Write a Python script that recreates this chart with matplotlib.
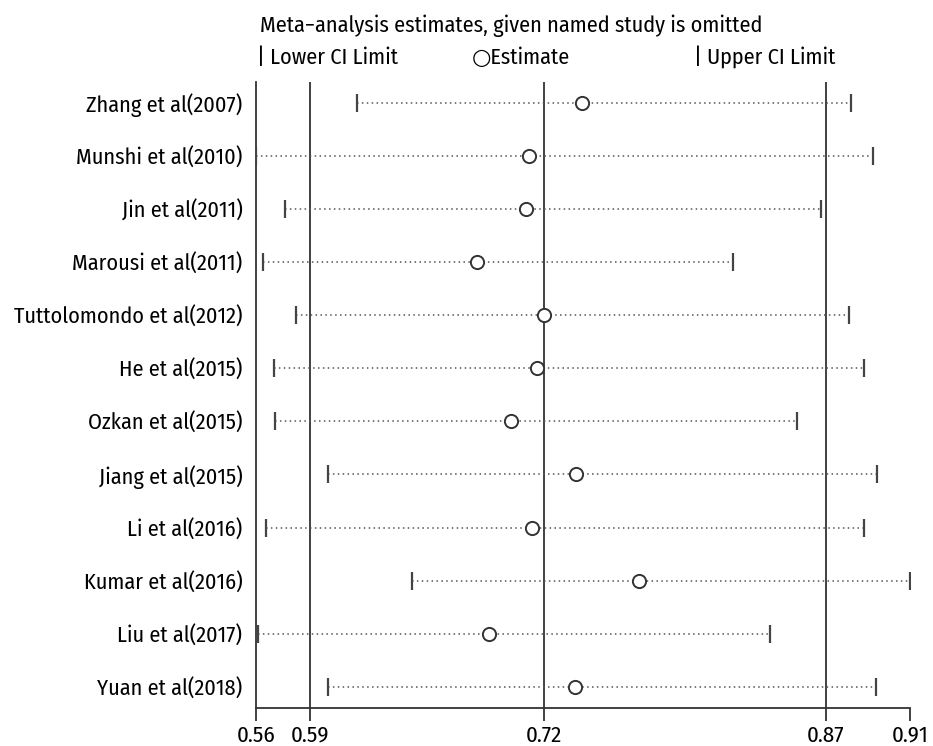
import matplotlib.pyplot as plt

# condensed humanist sans first, plain fallbacks after it
plt.rcParams['font.family'] = ['Fira Sans Condensed', 'Open Sans', 'DejaVu Sans']

studies = ['Zhang et al(2007)', 'Munshi et al(2010)', 'Jin et al(2011)',
           'Marousi et al(2011)', 'Tuttolomondo et al(2012)', 'He et al(2015)',
           'Ozkan et al(2015)', 'Jiang et al(2015)', 'Li et al(2016)',
           'Kumar et al(2016)', 'Liu et al(2017)', 'Yuan et al(2018)']
lower = [0.6177, 0.5640, 0.5794, 0.5676, 0.5851, 0.5736,
         0.5739, 0.6023, 0.5690, 0.6468, 0.5651, 0.6020]
estimate = [0.7374, 0.7092, 0.7075, 0.6812, 0.7170, 0.7131,
            0.6993, 0.7339, 0.7106, 0.7677, 0.6879, 0.7335]
upper = [0.8803, 0.8919, 0.8644, 0.8177, 0.8791, 0.8872,
         0.8518, 0.8943, 0.8874, 0.9117, 0.8374, 0.8936]

# overall estimate with all studies
overall_lower = 0.5927
overall_est = 0.7169
overall_upper = 0.8670

fig = plt.figure(figsize=(9.33, 7.46), dpi=100)
ax = fig.add_axes([0.2747, 0.0509, 0.7006, 0.8396])

n = len(studies)
ypos = list(range(n, 0, -1))
xmin, xmax = min(lower), max(upper)

for v in [overall_lower, overall_est, overall_upper]:
    ax.axvline(v, color='#333333', lw=1.3, zorder=1)

ax.hlines(ypos, lower, upper, colors='#555555', linestyles=(0, (1, 2.2)), lw=1.1, zorder=2)
ax.plot(lower, ypos, ls='none', marker='|', ms=13, mew=1.6, color='#444444', zorder=3)
ax.plot(upper, ypos, ls='none', marker='|', ms=13, mew=1.6, color='#444444', zorder=3)
ax.plot(estimate, ypos, ls='none', marker='o', ms=9.5, mfc='white', mec='#333333',
        mew=1.4, zorder=4)

ax.set_xlim(xmin, xmax)
ax.set_ylim(0.6, n + 0.4)
ticks = [xmin, overall_lower, overall_est, overall_upper, xmax]
ax.set_xticks(ticks)
ax.set_xticklabels([f'{t:.2f}' for t in ticks])
ax.set_yticks(ypos)
ax.set_yticklabels(studies)

for s in ['top', 'right']:
    ax.spines[s].set_visible(False)
for s in ['left', 'bottom']:
    ax.spines[s].set_color('#333333')
    ax.spines[s].set_linewidth(1.3)
ax.tick_params(axis='x', length=9, width=1.3, color='#333333', labelsize=16.5, pad=3)
ax.tick_params(axis='y', length=0, labelsize=16, pad=10)

fig.text(0.2790, 0.9575, 'Meta\u2212analysis estimates, given named study is omitted',
         fontsize=16, va='baseline', ha='left')
fig.text(0.2757, 0.9142, '| Lower CI Limit', fontsize=16, va='baseline', ha='left')
fig.text(0.5060, 0.9142, '\u25cbEstimate', fontsize=16, va='baseline', ha='left',
         family=['Fira Sans Condensed', 'Open Sans', 'DejaVu Sans'])
fig.text(0.7438, 0.9142, '| Upper CI Limit', fontsize=16, va='baseline', ha='left')

plt.savefig('out.png', dpi=100)
